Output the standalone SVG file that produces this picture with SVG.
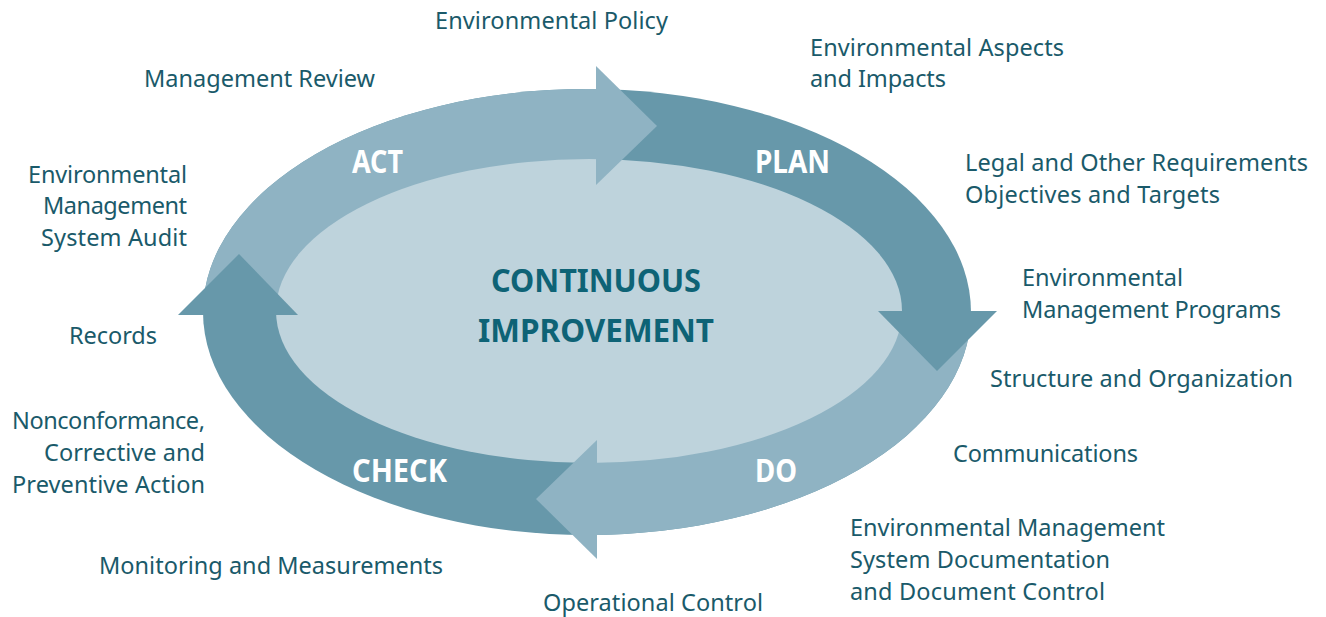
<svg xmlns="http://www.w3.org/2000/svg" width="1326" height="617" viewBox="0 0 1326 617">
  <style>
    .lbl { font-family: "Noto Sans", "Open Sans", sans-serif; font-size: 23.5px; fill: #1a5a6a; }
    .stage { font-family: "Noto Sans", "Open Sans", sans-serif; font-size: 32px; font-weight: bold; fill: #ffffff; }
    .center { font-family: "Noto Sans", "Open Sans", sans-serif; font-size: 32px; font-weight: bold; fill: #0e6376; }
    .light { fill: #8fb3c3; }
    .dark { fill: #6798aa; }
    .inner { fill: #bed3dc; }
  </style>
  <defs>
    <clipPath id="lightClip">
      <rect x="0" y="0" width="596" height="315"/>
      <rect x="597" y="311" width="729" height="306"/>
    </clipPath>
  </defs>
  <rect width="1326" height="617" fill="#ffffff"/>

  <g id="ring">
    <ellipse class="dark" cx="587" cy="312" rx="384" ry="223"/>
    <ellipse class="light" cx="587" cy="312" rx="384" ry="223" clip-path="url(#lightClip)"/>
    <ellipse class="inner" cx="589" cy="311" rx="313" ry="152"/>
  </g>

  <g id="connectors">
    <polygon class="light" points="596,66 657,126 596,185"/>
    <polygon class="dark" points="878,311 997,311 937,371"/>
    <polygon class="light" points="597,440 536,499 597,559"/>
    <polygon class="dark" points="178,315 298,315 239,254"/>
  </g>

  <g id="center">
    <text class="center" x="596" y="292" text-anchor="middle" textLength="210" lengthAdjust="spacingAndGlyphs">CONTINUOUS</text>
    <text class="center" x="596" y="342" text-anchor="middle" textLength="236" lengthAdjust="spacingAndGlyphs">IMPROVEMENT</text>
  </g>

  <g id="act"><text class="stage" x="352" y="173" textLength="51" lengthAdjust="spacingAndGlyphs">ACT</text></g>
  <g id="plan"><text class="stage" x="755" y="173" textLength="75" lengthAdjust="spacingAndGlyphs">PLAN</text></g>
  <g id="do"><text class="stage" x="755" y="482" textLength="42" lengthAdjust="spacingAndGlyphs">DO</text></g>
  <g id="check"><text class="stage" x="352" y="482" textLength="95" lengthAdjust="spacingAndGlyphs">CHECK</text></g>

  <g id="env-policy"><text class="lbl" x="435" y="29" textLength="233" lengthAdjust="spacing">Environmental Policy</text></g>
  <g id="env-aspects">
    <text class="lbl" x="810" y="56" textLength="254" lengthAdjust="spacing">Environmental Aspects</text>
    <text class="lbl" x="810" y="87" textLength="136" lengthAdjust="spacing">and Impacts</text>
  </g>
  <g id="mgmt-review"><text class="lbl" x="144" y="87" textLength="231" lengthAdjust="spacing">Management Review</text></g>
  <g id="legal">
    <text class="lbl" x="965" y="171" textLength="343" lengthAdjust="spacing">Legal and Other Requirements</text>
    <text class="lbl" x="965" y="203" textLength="255" lengthAdjust="spacing">Objectives and Targets</text>
  </g>
  <g id="env-programs">
    <text class="lbl" x="1022" y="286" textLength="161" lengthAdjust="spacing">Environmental</text>
    <text class="lbl" x="1022" y="318" textLength="259" lengthAdjust="spacing">Management Programs</text>
  </g>
  <g id="structure"><text class="lbl" x="990" y="387" textLength="303" lengthAdjust="spacing">Structure and Organization</text></g>
  <g id="communications"><text class="lbl" x="953" y="462" textLength="185" lengthAdjust="spacing">Communications</text></g>
  <g id="documentation">
    <text class="lbl" x="850" y="536" textLength="315" lengthAdjust="spacing">Environmental Management</text>
    <text class="lbl" x="850" y="568" textLength="260" lengthAdjust="spacing">System Documentation</text>
    <text class="lbl" x="850" y="600" textLength="255" lengthAdjust="spacing">and Document Control</text>
  </g>
  <g id="operational"><text class="lbl" x="543" y="611" textLength="220" lengthAdjust="spacing">Operational Control</text></g>
  <g id="monitoring"><text class="lbl" x="99" y="574" textLength="344" lengthAdjust="spacing">Monitoring and Measurements</text></g>
  <g id="nonconformance">
    <text class="lbl" x="12" y="429" textLength="193" lengthAdjust="spacing">Nonconformance,</text>
    <text class="lbl" x="44" y="461" textLength="161" lengthAdjust="spacing">Corrective and</text>
    <text class="lbl" x="12" y="493" textLength="193" lengthAdjust="spacing">Preventive Action</text>
  </g>
  <g id="records"><text class="lbl" x="69" y="344" textLength="88" lengthAdjust="spacing">Records</text></g>
  <g id="ems-audit">
    <text class="lbl" x="28" y="183" textLength="159" lengthAdjust="spacing">Environmental</text>
    <text class="lbl" x="43" y="214" textLength="144" lengthAdjust="spacing">Management</text>
    <text class="lbl" x="41" y="246" textLength="146" lengthAdjust="spacing">System Audit</text>
  </g>
</svg>
